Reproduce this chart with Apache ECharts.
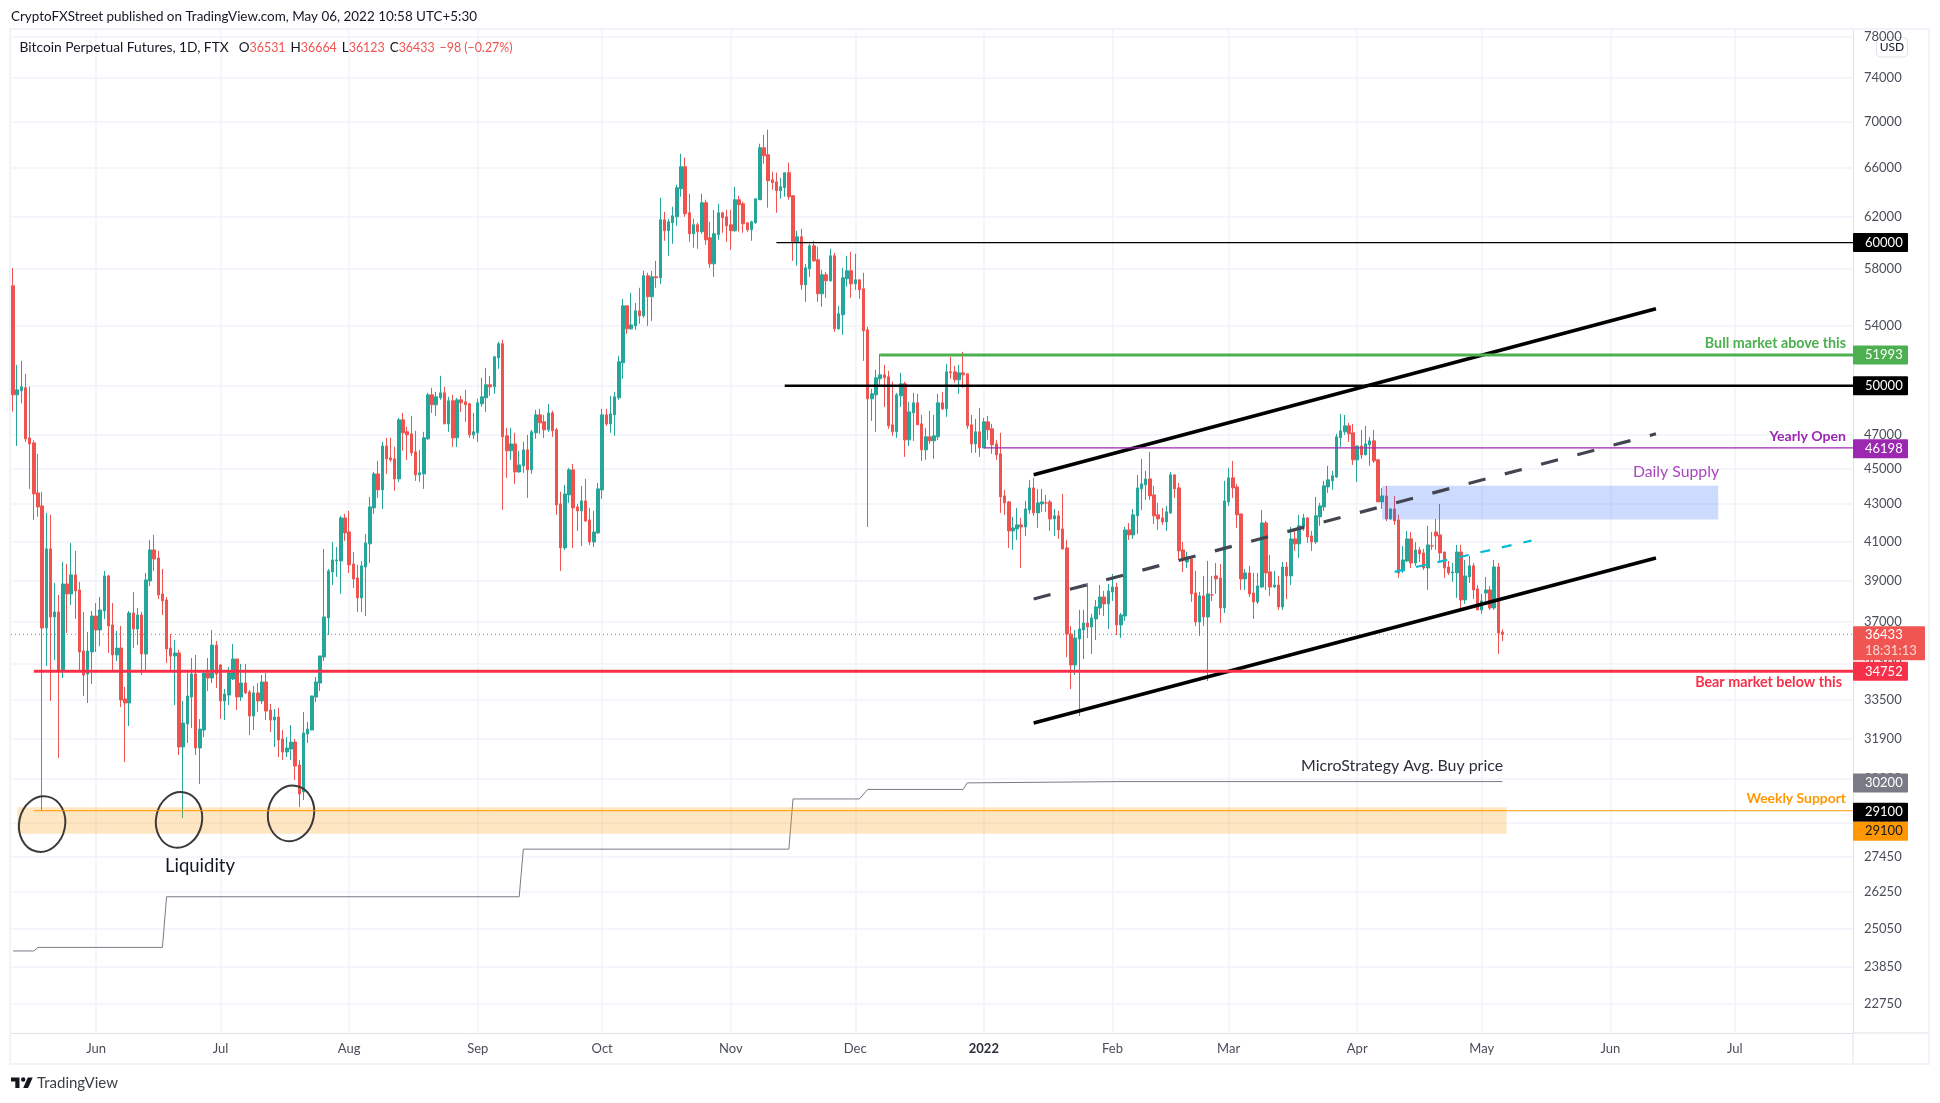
<!DOCTYPE html>
<html><head><meta charset="utf-8">
<script src="https://cdn.jsdelivr.net/npm/echarts@6/dist/echarts.min.js"></script>
<style>html,body{margin:0;padding:0;background:#fff}#c{width:1940px;height:1103px}</style></head>
<body><div id="c"></div>
<script>
const firstDay = Date.UTC(2021, 4, 12);
const dayCount = 444;
const opens = [56790,49425,49680,49870,46790,46490,43620,42905,36725,40620,37245,37485,34814,38845,38355,39295,38550,35665,34635,35620,37290,36634,37530,39245,36870,35485,35800,33550,33380,37435,36680,37340,35530,38995,40566,40155,38355,38062,35800,35440,35575,31560,32500,33635,34635,31520,32251,34680,34460,35935,35035,33465,33720,34415,35305,33635,34240,33850,32830,33810,33465,34285,33084,32665,32790,31885,31360,31480,31760,30845,29800,32085,32251,33635,34240,35395,37200,39445,40000,40000,42255,41505,39850,39145,38160,39695,40880,42795,44690,43789,46310,45610,45555,44405,47875,47150,47030,45960,44635,44690,46730,49425,48800,49235,49550,47630,49050,46790,49111,48985,48860,46970,47090,48860,49235,50060,49930,51810,52745,46910,46020,46430,44805,45150,46079,44920,47090,48180,47755,47269,48300,47269,43015,40670,43510,44920,42850,42630,43180,42147,40980,41455,43789,48180,47630,48180,49235,51480,55360,53760,53960,55010,54660,57520,56000,57445,57370,61772,60910,61535,62005,64260,66085,62325,60680,61380,60835,63125,60370,58400,60600,62325,62005,61380,60910,63366,63045,61535,60990,61535,63366,67705,67105,65002,64835,64100,64345,65585,63690,60060,60445,56860,58030,59755,58702,56215,57590,57150,59000,53760,54730,57300,57885,56930,57225,56575,53693,49175,49425,50445,50700,50570,47570,47150,49360,50125,46670,48300,48925,47630,46079,46850,46610,46850,48925,48550,50895,50895,50379,50830,50765,47570,46430,47150,46195,47755,47330,46430,45845,43455,43125,41560,41665,41880,41770,42687,43900,42525,43015,43070,43125,42200,42365,41665,40670,36445,35035,36215,36634,36960,36770,37150,37675,38205,37870,38450,38695,36870,37290,41613,41350,42365,43845,44070,44405,43510,42420,42255,42040,42525,44635,43900,40566,39950,40100,38400,37010,38260,37245,38305,39245,39145,37675,43125,44465,43955,42470,39095,39395,38400,37965,38695,41985,39445,38695,38795,37725,39695,39245,41140,40880,41770,42255,41295,40980,42310,42850,43955,44295,44520,46790,47150,47510,47090,45496,46310,45785,46375,46610,45496,43125,43455,42200,42740,42147,39495,40000,41140,39900,40566,40410,39645,40770,41505,41350,40460,39695,39395,39395,40460,38062,39195,39750,38600,37580,38400,38550,37675,39695,36531];
const highs = [58090,51350,51610,50765,49950,46650,45845,43680,42525,42420,38895,38305,39950,39850,40930,40515,38945,37485,36540,37530,37915,38205,39495,39295,37915,36585,36820,34070,37530,38450,37675,37485,39395,41086,41350,40515,39595,38205,36445,36170,35712,33465,34680,35350,35485,32705,34680,35350,36634,36125,35080,33980,34945,35980,35305,35080,35080,33938,34110,34240,34590,34680,33340,33125,33170,32251,31965,32455,31885,31042,33000,32580,33680,34505,35440,40620,39595,40985,40720,42365,42470,42630,40460,39800,40000,41400,43400,44805,45435,46550,46790,46790,46255,47995,48300,47450,48120,47210,46079,47150,49550,49870,49615,50635,49930,49300,49425,49235,49360,49741,48925,48300,49175,50510,51155,50635,51945,52880,53013,47390,47390,47090,46020,46550,46970,47269,48489,48550,48180,48860,48430,47390,43680,44070,45035,45265,43015,44015,44405,42795,42630,44180,48550,48550,49360,49615,51945,55855,55360,56285,55570,56645,57885,57740,57885,58625,63530,62400,61850,62800,64590,67190,66850,63850,61850,61535,63850,63366,61615,62564,63045,62400,62564,62564,64425,63690,63205,61535,61695,63445,68050,68835,69279,65670,65585,65170,65585,66425,63690,60910,61070,58400,59910,60140,59680,57959,57810,59530,59225,55360,58105,59000,59300,59150,57225,57740,53900,49805,51025,52075,51350,50960,50250,49550,50830,50250,48985,49550,49490,48180,47390,48430,48180,49490,49615,51415,51875,51285,51350,52210,50765,48180,47935,48610,47995,48120,47630,46670,47090,43789,43180,42310,42795,42255,43180,44351,44465,43845,43845,43510,43235,42740,42630,43565,41086,36820,36634,37580,37580,38895,37390,38062,38795,38500,38845,39345,38895,37435,41770,41985,42740,44635,45555,44865,45960,44015,43070,42795,42905,44805,44635,44180,40980,40460,40100,39495,38450,39245,40000,39245,39900,39850,44295,45035,45435,44125,42470,39595,39750,39395,39395,42687,42090,40310,39495,39245,39950,39950,41770,41560,42420,42470,42310,41560,43400,43070,44295,45150,44865,47030,48240,48180,47695,47630,46310,47269,47510,46850,47269,45555,43900,44015,42795,43455,42420,40770,41560,41505,40980,40720,40620,41830,41505,42200,43015,40460,40000,39900,40825,40825,40052,40255,39900,38795,38355,39195,38745,40052,39900,36664];
const lows = [48385,46310,48900,46550,43845,42147,42310,29090,34990,33465,35260,31120,34460,36495,37820,37150,34814,33680,33380,34200,35620,35890,37150,35575,34814,35215,33210,30960,32415,35800,35935,34590,34814,38745,39495,38110,37340,35125,34814,33295,31240,28830,31720,32335,31240,30105,31965,33895,34240,34025,32705,32665,33295,34373,33084,33465,33765,32045,32251,33000,33340,32665,32170,31560,31160,31042,31160,31042,30261,29230,29500,31720,32251,33420,33895,35215,36400,38795,39195,38355,41035,39395,38650,37485,37485,37290,39900,42470,43345,42740,44690,45380,43735,44235,46020,45496,45730,44295,44235,43845,46670,48300,48120,49111,47630,47150,46255,46255,48365,47755,46790,46730,46550,48675,48365,49360,49490,51090,42687,44465,45496,44125,44750,44750,43345,44690,46730,47030,46790,47150,46850,42420,39495,40566,43070,40670,41560,40770,42040,40825,40720,41400,43290,47510,47090,46910,49111,50445,53415,53693,53693,54105,54520,53960,54310,56645,56930,60140,59000,59910,61300,63610,62005,60060,59600,59530,60680,59835,58105,57445,60217,60755,60060,59455,60835,60835,60755,60835,60140,61460,63366,66340,62725,64179,62325,63445,63610,63366,58625,58255,56501,55640,57445,58550,55640,55290,55925,57080,53555,53693,53350,56715,55925,56501,55855,51610,41770,47815,47150,50060,48675,47330,46910,46790,48675,45670,46310,46610,47570,45435,45496,46430,45555,46670,48489,48060,50445,50185,49490,49870,47330,45905,45905,45670,46195,46670,45845,45496,42525,42420,40670,40566,41086,39645,41295,42470,42365,41720,42580,42580,41560,41295,41140,40566,35395,33980,34590,32830,35305,36260,35530,36170,37340,37290,36680,38015,36400,36260,37055,41086,41140,41400,42687,43235,43235,41930,41613,41880,41560,42470,43345,40052,39445,39645,37965,36820,36355,36820,34330,38015,38355,36960,37435,42905,43345,41720,38550,38550,38205,37150,37870,38650,38550,38260,38650,37580,37580,38110,38795,40515,40155,41560,40930,40515,40880,41830,42630,43620,43789,44465,46255,46970,46550,45205,44235,45555,45785,45150,45320,43125,42740,42090,42147,41880,39145,39395,39950,39645,39750,39950,39545,38550,40566,40566,39950,39145,39295,38945,38160,37675,37870,38895,38110,37580,37390,38015,37580,37580,35530,36123];
const closes = [49425,49740,49930,46730,46430,43565,42850,36725,40620,37245,37485,34814,38845,38355,39295,38500,35620,34590,35665,37290,36634,37580,39245,36820,35485,35800,33508,33380,37435,36680,37340,35530,39044,40566,40100,38305,38015,35755,35440,35575,31560,32540,33680,34635,31520,32290,34680,34460,35935,34635,33465,33765,34680,35305,33635,34240,33810,32830,33810,33465,34285,33040,32665,32790,31843,31360,31520,31760,30805,29725,32130,32290,33680,34285,35440,37245,39495,40052,40052,42255,41455,39800,39095,38160,39750,40930,42850,44690,43789,46310,45555,45496,44405,47875,47090,46970,45905,44635,44750,46790,49425,48800,49300,49550,47630,49050,46790,49111,48925,48800,46970,47150,48925,49300,50060,49930,51875,52745,46850,46020,46430,44805,45205,46079,44920,47150,48180,47695,47269,48300,47210,42960,40670,43565,44920,42795,42630,43180,42090,40980,41505,43845,48180,47630,48240,49300,51545,55360,53760,54030,55010,54660,57520,56000,57445,57370,61772,60910,61615,62085,64345,66085,62245,60680,61380,60835,63125,60217,58400,60680,62325,61930,61300,60910,63366,62965,61460,60990,61615,63445,67705,67020,64920,64755,64100,64425,65585,63610,60060,60445,56860,58105,59755,58625,56215,57590,57150,59000,53760,54800,57370,57885,56930,57225,56501,53625,49175,49490,50510,50700,50510,47510,47150,49425,50125,46670,48365,48925,47570,46079,46850,46610,46910,48925,48550,50895,50830,50379,50830,50700,47510,46430,47150,46195,47755,47269,46375,45785,43400,43070,41560,41720,41880,41770,42740,43900,42525,43070,43125,43070,42200,42365,41613,40620,36445,35035,36260,36680,36960,36770,37200,37725,38205,37870,38500,38695,36870,37340,41613,41350,42420,43900,44125,44405,43455,42365,42200,42040,42580,44635,43845,40515,40052,40210,38355,37010,38260,37245,38355,38305,39095,37675,43180,44465,43900,42420,39095,39395,38355,37965,38745,41985,39395,38695,38795,37725,39695,39245,41140,40880,41830,42255,41240,40980,42365,42905,44015,44351,44580,46850,47210,47510,47030,45496,46310,45785,46430,46610,45435,43125,43455,42200,42740,42090,39395,40052,41140,39900,40566,40360,39645,40825,40770,41295,40410,39645,39395,39445,40460,38062,39245,39750,38550,37580,38015,38550,37675,39695,36495,36433];
const mstrBars = [0,5,6,36,37,122,123,187,188,204,206,229,230,267,359];
const mstrPrices = [24340,24340,24450,24450,26080,26080,27710,27710,29540,29540,29900,29900,30150,30200,30200];
const yTicks = [78000,74000,70000,66000,62000,58000,54000,50000,47000,45000,43000,41000,39000,37000,35100,33500,31900,30300,28650,27450,26250,25050,23850,22750];
const levelPrices = [60000,51993,50000,46198,34752,30200,29100,29100];
const levelStarts = [184,209,186,234,5,null,5,null];
const channelUpper = [[246,44640],[396,55150]];
const channelMiddle = [[246,38110],[396,47030]];
const channelLower = [[246,32540],[396,40155]];
const cyanLine = [[333,39445],[366,41050]];
const zoneRects = [[1,29230,360,28260],[330,44020,411,42170]];
const circleCenters = [[7.2,28610],[40.2,28760],[67,29000]];
const lastPrice = 36433;
const countdown = '18:31:13';

const FONT = 'Lato, "Noto Sans", sans-serif';
const RED = '#ef5350', GREEN = '#26a69a';
const levelColors = ['#000000','#4caf50','#000000','#9c27b0','#f7304a','#787b86','#ff9800','#ff9800'];
const levelWidths = [1.2,3,2.6,1.2,3,0,1,0];
const tagColors = ['#000000','#4caf50','#000000','#9c27b0','#f7304a','#787b86','#000000','#ff9800'];
const tagText = ['#fff','#fff','#fff','#fff','#fff','#fff','#fff','#131722'];
const tagShift = [0,0,0,0.8,0,1.5,1.5,20.5];

const dates = Array.from({length: dayCount}, (_, i) => new Date(firstDay + i * 864e5).toISOString().slice(0, 10));
const monthNames = ['Jan','Feb','Mar','Apr','May','Jun','Jul','Aug','Sep','Oct','Nov','Dec'];
const isMonthStart = (i) => dates[i].endsWith('-01') && i > 0;
const candles = opens.map((o, i) => [o, closes[i], lows[i], highs[i]]);

function rectItem(params, api) {
  const a = api.coord([api.value(0), api.value(1)]);
  const b = api.coord([api.value(2), api.value(3)]);
  const fills = ['rgba(255,152,0,0.24)', 'rgba(41,98,255,0.23)'];
  return {type:'rect', shape:{x:a[0], y:a[1], width:b[0]-a[0], height:b[1]-a[1]}, style:{fill:fills[params.dataIndex]}};
}
function levelItem(params, api) {
  const i = params.dataIndex, cs = params.coordSys, right = cs.x + cs.width;
  const y = api.coord([0, api.value(1)])[1];
  const kids = [];
  if (levelStarts[i] !== null) {
    const x = api.coord([levelStarts[i], api.value(1)])[0];
    kids.push({type:'line', shape:{x1:x, y1:y, x2:right, y2:y}, style:{stroke:levelColors[i], lineWidth:levelWidths[i]}});
  }
  const cy = y + tagShift[i];
  kids.push({type:'rect', shape:{x:right, y:cy-9.5, width:55, height:19, r:1}, style:{fill:tagColors[i]}});
  kids.push({type:'text', style:{text:String(levelPrices[i]), x:right+12, y:cy, fill:tagText[i], font:'13px '+FONT, verticalAlign:'middle', align:'left'}});
  return {type:'group', children:kids};
}
function lastItem(params, api) {
  const cs = params.coordSys, right = cs.x + cs.width;
  const y = api.coord([0, api.value(1)])[1];
  return {type:'group', children:[
    {type:'line', shape:{x1:cs.x, y1:y, x2:right, y2:y}, style:{stroke:RED, lineWidth:1, lineDash:[1,3]}},
    {type:'rect', shape:{x:right, y:y-8, width:72, height:34, r:1}, style:{fill:'#f15552'}},
    {type:'text', style:{text:String(lastPrice), x:right+12, y:y+1, fill:'#fff', font:'13px '+FONT, verticalAlign:'middle'}},
    {type:'text', style:{text:countdown, x:right+12, y:y+17, fill:'#fbd7d6', font:'13px '+FONT, verticalAlign:'middle'}}
  ]};
}
function circleItem(params, api) {
  const p = api.coord([api.value(0), api.value(1)]);
  return {type:'ellipse', x:p[0], y:p[1], rotation:-0.2, shape:{cx:0, cy:0, rx:23, ry:28}, style:{fill:'none', stroke:'#3a3a3a', lineWidth:2}};
}
function trend(data, color, width, dash) {
  return {type:'line', data, symbol:'none', silent:true, z:6, clip:false, animation:false,
    lineStyle:{color, width, type: dash || 'solid', cap:'butt'}};
}
const txt = (text, x, y, fill, size, weight, align) => ({type:'text', z:50, style:{text, x, y, fill, font:(weight||'normal')+' '+size+'px '+FONT, align:align||'left', verticalAlign:'middle'}});
const ln = (x1,y1,x2,y2,c) => ({type:'line', z:1, shape:{x1,y1,x2,y2}, style:{stroke:c, lineWidth:1}});

const chart = echarts.init(document.getElementById('c'), null, {renderer:'canvas'});
chart.setOption({
  animation:false, backgroundColor:'#ffffff',
  title:{left:19.5, top:39, padding:0, text:
    '{t|Bitcoin Perpetual Futures, 1D, FTX}  {k|O}{r|36531} {k|H}{r|36664} {k|L}{r|36123} {k|C}{r|36433} {r|\u221298 (\u22120.27%)}',
    textStyle:{fontWeight:'normal', rich:{
      t:{fontFamily:FONT,fontSize:13.8,fontWeight:'normal',color:'#131722'},
      k:{fontFamily:FONT,fontSize:13.5,fontWeight:'normal',color:'#131722'},
      r:{fontFamily:FONT,fontSize:12.4,fontWeight:'normal',color:RED}}}},
  grid:{left:11, right:87, top:30, bottom:70},
  xAxis:{type:'category', data:dates, boundaryGap:true,
    axisLine:{lineStyle:{color:'#e0e3eb'}}, axisTick:{show:false},
    splitLine:{show:true, alignWithLabel:true, interval:(i)=>isMonthStart(i), lineStyle:{color:'#f0f3fa', width:1.5}},
    axisLabel:{interval:(i)=>isMonthStart(i), margin:9, fontFamily:FONT, fontSize:13, color:'#4a4e5a', hideOverlap:false,
      formatter:(v)=>{const m=+v.slice(5,7); return m===1?'{b|'+v.slice(0,4)+'}':monthNames[m-1];},
      rich:{b:{fontFamily:FONT,fontSize:13,fontWeight:'bold',color:'#2a2e39'}}}},
  yAxis:{type:'log', logBase:10, position:'right', min:21925, max:78660,
    axisLine:{show:true, onZero:false, lineStyle:{color:'#e0e3eb'}}, axisTick:{show:false, customValues:yTicks},
    splitLine:{show:true, lineStyle:{color:'#f0f3fa', width:1.5}},
    axisLabel:{customValues:yTicks, margin:11, padding:[2,0,0,0], fontFamily:FONT, fontSize:13, color:'#4a4e5a', formatter:(v)=>String(Math.round(v))}},
  graphic:[
    {type:'rect', z:1, shape:{x:10,y:29,width:1919,height:1035}, style:{fill:'none', stroke:'#f0f3fa', lineWidth:2}},
    ln(1853,1033,1928,1033,'#e0e3eb'), ln(1853,1033,1853,1063,'#e0e3eb'),
    txt('CryptoFXStreet published on TradingView.com, May 06, 2022 10:58 UTC+5:30', 11, 17, '#131722', 13.45),
    {type:'group', z:50, children:[
      {type:'rect', shape:{x:1876.5,y:37.5,width:31,height:19.5,r:4}, style:{fill:'#fff', stroke:'#e0e3eb', lineWidth:1}},
      txt('USD', 1892, 47.5, '#131722', 12, 'normal', 'center')]},
    {type:'polygon', z:50, shape:{points:[[19.5,1088],[15.3,1088],[15.3,1081.6],[11,1081.6],[11,1077.6],[19.5,1077.6]]}, style:{fill:'#131722'}},
    {type:'polygon', z:50, shape:{points:[[28.1,1088],[23.2,1088],[27.8,1077.6],[32.7,1077.6]]}, style:{fill:'#131722'}},
    {type:'circle', z:50, shape:{cx:23.2,cy:1079.5,r:2.2}, style:{fill:'#131722'}},
    txt('TradingView', 37, 1083, '#3c4048', 15),
    txt('Liquidity', 165, 866, '#131722', 18.5),
    txt('Bull market above this', 1846, 343, '#4caf50', 14.3, 'bold', 'right'),
    txt('Yearly Open', 1846, 436, '#9c27b0', 14.1, 'bold', 'right'),
    txt('Daily Supply', 1676, 472, '#ab47bc', 15.8, 'normal', 'center'),
    txt('Bear market below this', 1842, 682, '#f7304a', 14.3, 'bold', 'right'),
    txt('Weekly Support', 1846, 799, '#ff9800', 13.9, 'bold', 'right'),
    txt('MicroStrategy Avg. Buy price', 1301, 766, '#2a2e39', 15.9)
  ],
  series:[
    {type:'candlestick', name:'BTC-PERP', data:candles, barWidth:3, z:2, silent:true, clip:true,
      itemStyle:{color:GREEN, color0:RED, borderColor:GREEN, borderColor0:RED, borderWidth:1}},
    {type:'line', name:'MicroStrategy', data:mstrBars.map((b,i)=>[b,mstrPrices[i]]), symbol:'none', silent:true, z:3,
      lineStyle:{color:'#787b86', width:1}},
    {type:'custom', name:'Zones', coordinateSystem:'cartesian2d', data:zoneRects, renderItem:rectItem, encode:{x:[0,2],y:[1,3]}, silent:true, z:4},
    {type:'custom', name:'Last', coordinateSystem:'cartesian2d', data:[[0,lastPrice]], renderItem:lastItem, encode:{x:0,y:1}, silent:true, z:5},
    trend(channelUpper,'#000000',3.6),
    trend(channelLower,'#000000',3.6),
    trend(channelMiddle,'#434651',3.2,[17.5,20]),
    trend(cyanLine,'#00bcd4',2.2,[10,12]),
    {type:'custom', name:'Circles', coordinateSystem:'cartesian2d', data:circleCenters, renderItem:circleItem, encode:{x:0,y:1}, silent:true, z:7},
    {type:'custom', name:'Levels', coordinateSystem:'cartesian2d', data:levelPrices.map((p)=>[0,p]), renderItem:levelItem, encode:{x:0,y:1}, silent:true, z:8}
  ]
});
</script></body></html>
